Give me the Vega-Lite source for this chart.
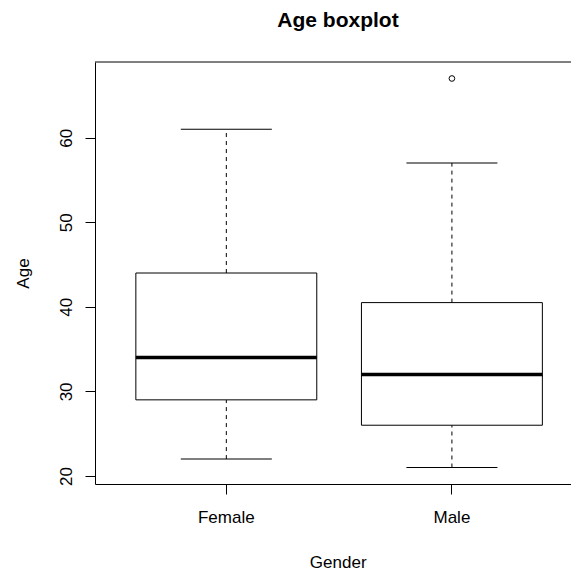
{
  "$schema": "https://vega.github.io/schema/vega-lite/v6.json",
  "width": 476,
  "height": 422,
  "autosize": {"type": "none"},
  "padding": {"left": 95, "top": 62, "right": 0, "bottom": 87},
  "background": "white",
  "title": {
    "text": "Age boxplot",
    "font": "Liberation Sans",
    "fontSize": 21,
    "fontWeight": "bold",
    "color": "black",
    "anchor": "middle",
    "frame": "group",
    "baseline": "alphabetic",
    "offset": 14,
    "dx": 5
  },
  "datasets": {
    "stats": [
      {"Gender": "Female", "lower": 22, "q1": 29, "median": 34, "q3": 44, "upper": 61},
      {"Gender": "Male", "lower": 21, "q1": 26, "median": 32, "q3": 40.5, "upper": 57}
    ],
    "outliers": [
      {"Gender": "Male", "Age": 67}
    ]
  },
  "data": {"name": "stats"},
  "config": {
    "view": {"stroke": null},
    "axisX": {
      "grid": false,
      "domain": true,
      "domainColor": "black",
      "domainWidth": 1,
      "ticks": true,
      "tickColor": "black",
      "tickSize": 10,
      "labelFont": "Liberation Sans",
      "labelFontSize": 17,
      "labelColor": "black",
      "labelAngle": 0,
      "labelBaseline": "alphabetic",
      "labelPadding": 28.5,
      "titleFont": "Liberation Sans",
      "titleFontSize": 17,
      "titleFontWeight": "normal",
      "titleColor": "black",
      "titleBaseline": "alphabetic",
      "titleAlign": "center",
      "titleX": 242.7,
      "titleY": 83
    },
    "axisY": {
      "grid": false,
      "domain": true,
      "domainColor": "black",
      "domainWidth": 1,
      "ticks": true,
      "tickColor": "black",
      "tickSize": 10,
      "labelFont": "Liberation Sans",
      "labelFontSize": 17,
      "labelColor": "black",
      "labelAngle": 270,
      "labelAlign": "center",
      "labelBaseline": "alphabetic",
      "labelPadding": 14,
      "titleFont": "Liberation Sans",
      "titleFontSize": 17,
      "titleFontWeight": "normal",
      "titleColor": "black",
      "titleAngle": 270,
      "titleAlign": "center",
      "titleBaseline": "alphabetic",
      "titleX": -67,
      "titleY": 211
    }
  },
  "encoding": {
    "x": {
      "field": "Gender",
      "type": "nominal",
      "title": "Gender",
      "scale": {
        "domain": ["Female", "Male"],
        "paddingInner": 0.198,
        "paddingOuter": 0.154,
        "align": 0.588,
        "round": false
      }
    }
  },
  "layer": [
    {
      "data": {"values": [{"edge": "top"}]},
      "mark": {"type": "rule", "color": "black", "strokeWidth": 1},
      "encoding": {
        "x": null,
        "y": {
          "datum": 68.95,
          "type": "quantitative",
          "title": "Age",
          "scale": {"domain": [19.05, 68.95], "nice": false, "zero": false},
          "axis": {"values": [20, 30, 40, 50, 60]}
        }
      }
    },
    {
      "mark": {"type": "rule", "color": "black", "strokeWidth": 1, "strokeDash": [4, 4]},
      "encoding": {
        "y": {"field": "lower", "type": "quantitative", "title": "Age"},
        "y2": {"field": "q1"}
      }
    },
    {
      "mark": {"type": "rule", "color": "black", "strokeWidth": 1, "strokeDash": [4, 4]},
      "encoding": {
        "y": {"field": "q3", "type": "quantitative", "title": "Age"},
        "y2": {"field": "upper"}
      }
    },
    {
      "mark": {"type": "bar", "fill": "white", "stroke": "black", "strokeWidth": 1, "opacity": 1},
      "encoding": {
        "y": {"field": "q1", "type": "quantitative", "title": "Age"},
        "y2": {"field": "q3"}
      }
    },
    {
      "mark": {"type": "tick", "color": "black", "opacity": 1, "thickness": 1, "size": 91},
      "encoding": {
        "y": {"field": "lower", "type": "quantitative", "title": "Age"}
      }
    },
    {
      "mark": {"type": "tick", "color": "black", "opacity": 1, "thickness": 1, "size": 91},
      "encoding": {
        "y": {"field": "upper", "type": "quantitative", "title": "Age"}
      }
    },
    {
      "mark": {"type": "tick", "color": "black", "opacity": 1, "thickness": 3.5, "size": 181},
      "encoding": {
        "y": {"field": "median", "type": "quantitative", "title": "Age"}
      }
    },
    {
      "data": {"name": "outliers"},
      "mark": {"type": "point", "shape": "circle", "filled": false, "color": "black", "strokeWidth": 1, "size": 32, "opacity": 1},
      "encoding": {
        "y": {"field": "Age", "type": "quantitative", "title": "Age"}
      }
    }
  ]
}
